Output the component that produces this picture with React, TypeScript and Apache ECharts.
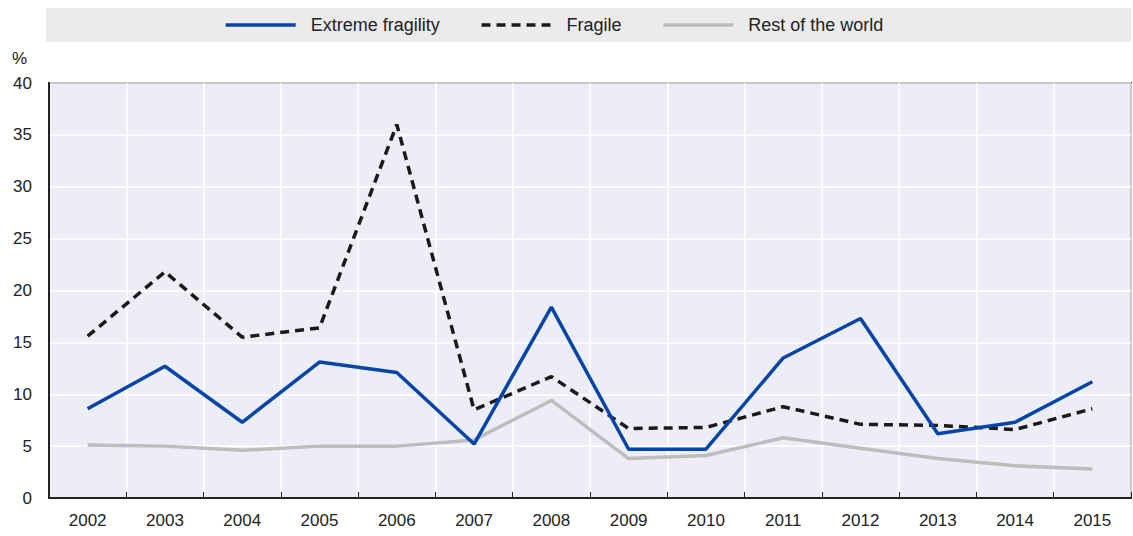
import React, { useEffect, useRef } from "react";
import * as echarts from "echarts";

const years = ["2002", "2003", "2004", "2005", "2006", "2007", "2008", "2009", "2010", "2011", "2012", "2013", "2014", "2015"];
const extremeFragility = [8.6, 12.7, 7.3, 13.1, 12.1, 5.2, 18.4, 4.7, 4.7, 13.5, 17.3, 6.2, 7.3, 11.2];
const fragile = [15.6, 21.8, 15.5, 16.4, 36.0, 8.5, 11.7, 6.7, 6.8, 8.8, 7.1, 7.0, 6.6, 8.6];
const restOfWorld = [5.1, 5.0, 4.6, 5.0, 5.0, 5.6, 9.4, 3.8, 4.1, 5.8, 4.8, 3.8, 3.1, 2.8];
const yTicks = { min: 0, max: 40, interval: 5 };

const FONT = "'Liberation Sans Narrow', 'Arial Narrow', 'Liberation Sans', sans-serif";

export default function App() {
  const ref = useRef<HTMLDivElement>(null);
  useEffect(() => {
    if (!ref.current) return;
    const chart = echarts.init(ref.current, null, { renderer: "svg" });
    chart.setOption({
      animation: false,
      textStyle: { fontFamily: FONT },
      graphic: [
        {
          type: "rect",
          z: -1,
          shape: { x: 46, y: 8, width: 1085, height: 34 },
          style: { fill: "#EBEBEB" },
        },
        {
          type: "text",
          x: 12,
          y: 50,
          style: { text: "%", font: `17px ${FONT}`, fill: "#222" },
        },
      ],
      legend: {
        left: 219,
        top: 11,
        itemWidth: 70,
        itemHeight: 20,
        itemGap: 40,
        itemStyle: { opacity: 0 },
        lineStyle: { width: 3.5 },
        textStyle: { fontSize: 18, color: "#222", fontFamily: FONT, padding: [0, 0, 0, 10] },
        data: ["Extreme fragility", "Fragile", "Rest of the world"],
      },
      grid: {
        left: 49,
        right: 2,
        top: 83,
        bottom: 38,
        show: true,
        backgroundColor: "#EDEDF7",
        borderColor: "#222",
        borderWidth: 2,
      },
      xAxis: {
        type: "category",
        data: years,
        boundaryGap: true,
        axisLine: { lineStyle: { color: "#222", width: 2 } },
        axisTick: { show: true, inside: true, length: 6, lineStyle: { color: "#222" } },
        axisLabel: { fontSize: 17, color: "#222", margin: 14, fontFamily: FONT },
        splitLine: { show: true, lineStyle: { color: "#FFFFFF", width: 1.5 } },
      },
      yAxis: {
        type: "value",
        min: yTicks.min,
        max: yTicks.max,
        interval: yTicks.interval,
        axisLine: { show: true, lineStyle: { color: "#222", width: 2 } },
        axisTick: { show: false },
        axisLabel: { fontSize: 17, color: "#222", margin: 17, fontFamily: FONT },
        splitLine: { show: true, lineStyle: { color: "#FFFFFF", width: 1.5 } },
      },
      series: [
        {
          name: "Extreme fragility",
          type: "line",
          data: extremeFragility,
          symbol: "none",
          z: 4,
          lineStyle: { color: "#0645A8", width: 3.5 },
          itemStyle: { color: "#0645A8" },
        },
        {
          name: "Fragile",
          type: "line",
          data: fragile,
          symbol: "none",
          z: 3,
          lineStyle: { color: "#1A1A1A", width: 3.5, type: [9, 6] },
          itemStyle: { color: "#1A1A1A" },
        },
        {
          name: "Rest of the world",
          type: "line",
          data: restOfWorld,
          symbol: "none",
          z: 2,
          lineStyle: { color: "#BDBDBD", width: 3.5 },
          itemStyle: { color: "#BDBDBD" },
        },
      ],
    });
    return () => chart.dispose();
  }, []);
  return <div ref={ref} style={{ position: "absolute", left: 0, top: 0, width: 1133, height: 536 }} />;
}
